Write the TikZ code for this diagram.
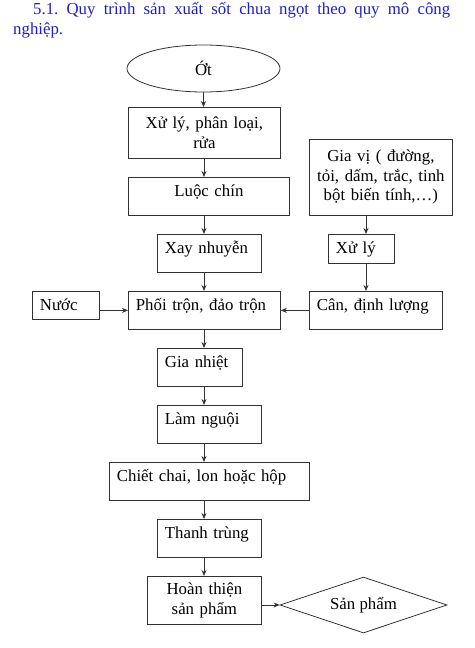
\documentclass[tikz,border=0pt]{standalone}
\usepackage{fontspec}
\setmainfont{Liberation Serif}
\usetikzlibrary{shapes.geometric,arrows.meta}
\definecolor{titleblue}{RGB}{30,30,200}
\definecolor{linegray}{RGB}{50,50,50}
\begin{document}
\begin{tikzpicture}[x=1pt,y=-1pt,
  every node/.style={font=\fontsize{16.8}{19.5}\selectfont},
  base/.style={draw=linegray, line width=0.8pt, anchor=north west, inner ysep=0pt},
  lbox/.style n args={2}{base, inner xsep=7.5pt, text width=#1-15pt, align=left,
    minimum height=#2, text height=8pt, text depth=8pt},
  cbox/.style n args={2}{base, inner xsep=2pt, text width=#1-4pt, align=center,
    minimum height=#2},
  arr/.style={draw=linegray, line width=0.8pt, -{Stealth[length=6pt,width=5pt]}}
]
\useasboundingbox (0,0) rectangle (474,648);

% title
\node[anchor=north west, text width=437pt, align=left, inner sep=0pt, text=titleblue,
  font=\fontsize{16.8}{19.5}\selectfont] (title) at (13,2.5)
  {\hspace*{20pt}\makebox[417pt][l]{5.1.\hfill Quy\hfill trình\hfill sản\hfill xuất\hfill sốt\hfill chua\hfill ngọt\hfill theo\hfill quy\hfill mô\hfill công}\\nghiệp.};

% start
\node[draw=linegray, line width=0.8pt, ellipse, minimum width=153pt, minimum height=47pt, inner sep=0pt] (ot) at (203.5,68.5) {Ớt};

% left column
\node[cbox={152pt}{51pt}] (b1) at (128,107) {Xử lý, phân loại,\\rửa};
\node[cbox={161pt}{38pt}, text height=8pt, text depth=8pt] (luoc) at (128,177) {Luộc chín};
\node[lbox={104pt}{38pt}] (xay) at (157,234) {Xay nhuyễn};
\node[lbox={67pt}{28pt}, text height=13pt, text depth=2pt] (nuoc) at (32,291) {Nước};
\node[lbox={152pt}{38pt}] (phoi) at (128,291) {Phối trộn, đảo trộn};
\node[lbox={85pt}{38pt}] (gn) at (157,348) {Gia nhiệt};
\node[lbox={104pt}{38pt}] (ln) at (157,405) {Làm nguội};
\node[lbox={200pt}{38pt}] (chiet) at (109,462) {Chiết chai, lon hoặc hộp};
\node[lbox={104pt}{38pt}] (tt) at (157,519) {Thanh trùng};
\node[cbox={114pt}{48pt}] (hoan) at (147,576) {Hoàn thiện\\sản phẩm};

% right column
\node[cbox={143pt}{76pt}] (gv) at (309,139) {Gia vị ( đường,\\tỏi, dấm, trắc, tinh\\bột biến tính,…)};
\node[lbox={66pt}{29pt}, text height=12pt, text depth=3pt] (xl) at (328,234) {Xử lý};
\node[lbox={133pt}{38pt}] (can) at (309,291) {Cân, định lượng};

% end
\node[draw=linegray, line width=0.8pt, diamond, shape aspect=3, minimum width=167pt, minimum height=56pt, inner sep=0pt] (sp) at (363.5,605) {Sản phẩm};

% connectors
\coordinate (cx) at (204,0);
\coordinate (rx) at (366,0);
\draw[arr] (ot.south) -- (b1.north -| ot.south);
\draw[arr] (b1.south -| cx) -- (luoc.north -| cx);
\draw[arr] (luoc.south -| cx) -- (xay.north -| cx);
\draw[arr] (xay.south -| cx) -- (phoi.north -| cx);
\draw[arr] (phoi.south -| cx) -- (gn.north -| cx);
\draw[arr] (gn.south -| cx) -- (ln.north -| cx);
\draw[arr] (ln.south -| cx) -- (chiet.north -| cx);
\draw[arr] (chiet.south -| cx) -- (tt.north -| cx);
\draw[arr] (tt.south -| cx) -- (hoan.north -| cx);
\draw[arr] (gv.south -| rx) -- (xl.north -| rx);
\draw[arr] (xl.south -| rx) -- (can.north -| rx);
\draw[arr] (nuoc.east |- phoi.west) -- (phoi.west);
\draw[arr] (can.west) -- (phoi.east);
\draw[arr] (hoan.east |- sp.west) -- (sp.west);
\end{tikzpicture}
\end{document}
